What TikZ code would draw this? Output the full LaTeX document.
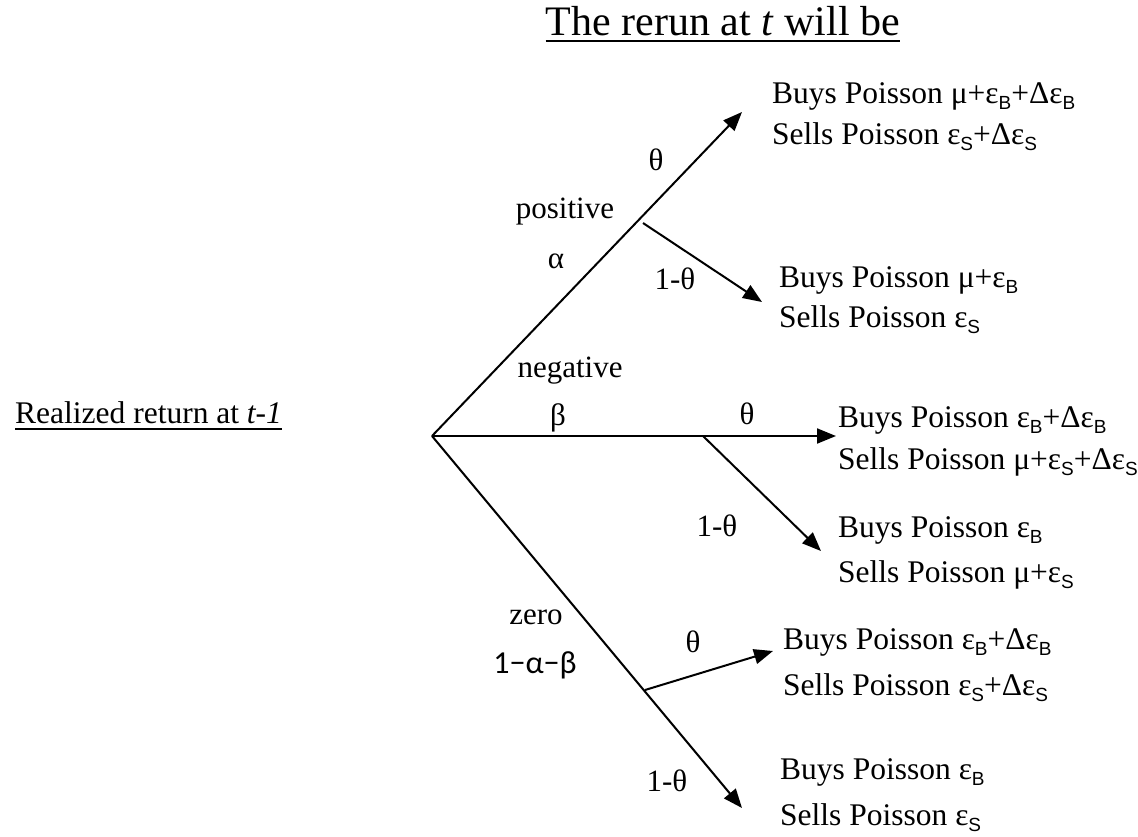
\documentclass[tikz,border=0pt]{standalone}
\usepackage{fontspec}
\setmainfont{Liberation Serif}
\newfontfamily\subfont{Liberation Sans}
\newfontfamily\carl{Carlito}
\usepackage{tikz}
\usetikzlibrary{arrows.meta}

% subscripts B and S are set in a sans font
\newcommand{\lo}[1]{\raisebox{-6pt}{\subfont\fontsize{19}{19}\selectfont #1}}

\begin{document}
\begin{tikzpicture}[x=1pt, y=-1pt,
    lbl/.style={inner sep=0pt, anchor=base, font=\fontsize{31}{36}\selectfont},
    outc/.style={inner sep=0pt, anchor=base west, font=\fontsize{31.5}{36}\selectfont},
    arr/.style={-{Triangle[length=19pt, width=15pt]}, line width=2pt},
    uline/.style={line width=2pt},
]
\useasboundingbox (0,0) rectangle (1138,836);

% Headings
\node[lbl, font=\fontsize{42}{48}\selectfont] (title) at (723,35) {The rerun at \textit{t} will be};
\draw[uline] ([yshift=-6pt]title.base west) -- ([yshift=-6pt]title.base east);
\node[outc] (prev) at (15,423) {Realized return at \textit{t-1}};
\draw[uline] ([yshift=-6pt]prev.base west) -- ([yshift=-6pt]prev.base east);

% Tree points
\coordinate (root) at (432,436);
\coordinate (posEnd) at (742,112);
\coordinate (negEnd) at (836,436);
\coordinate (zeroEnd) at (742,808);
\coordinate (posFork) at (643,223);
\coordinate (negFork) at (703,436);
\coordinate (zeroFork) at (645,690);
\coordinate (posLow) at (762,302);
\coordinate (negLow) at (821,551);
\coordinate (zeroUp) at (773,651);

% First level
\draw[arr] (root) -- (posEnd);
\draw[arr] (root) -- (negEnd);
\draw[arr] (root) -- (zeroEnd);

% Second level
\draw[arr] (posFork) -- (posLow);
\draw[arr] (negFork) -- (negLow);
\draw[arr] (zeroFork) -- (zeroUp);

% Branch labels
\node[lbl] (posName) at (565,218) {positive};
\node[lbl] (posProb) at (556,268) {α};
\node[lbl] (posTh) at (656,170) {θ};
\node[lbl] (posNth) at (675,289) {1-θ};
\node[lbl] (negName) at (570,377) {negative};
\node[lbl] (negProb) at (558,425) {β};
\node[lbl] (negTh) at (747,424) {θ};
\node[lbl] (negNth) at (717,536) {1-θ};
\node[lbl] (zeroName) at (536,624) {zero};
\node[lbl, font=\carl\fontsize{32}{36}\selectfont] (zeroProb) at (535,673) {1−α−β};
\node[lbl] (zeroTh) at (693,652) {θ};
\node[lbl] (zeroNth) at (667,791) {1-θ};

% Outcomes
\node[outc] (buysA) at (772,103) {Buys Poisson μ+ε\lo{B}+Δε\lo{B}};
\node[outc] (sellsA) at (772,144) {Sells Poisson ε\lo{S}+Δε\lo{S}};
\node[outc] (buysB) at (779,287) {Buys Poisson μ+ε\lo{B}};
\node[outc] (sellsB) at (779,327) {Sells Poisson ε\lo{S}};
\node[outc] (buysC) at (838,427) {Buys Poisson ε\lo{B}+Δε\lo{B}};
\node[outc] (sellsC) at (838,469) {Sells Poisson μ+ε\lo{S}+Δε\lo{S}};
\node[outc] (buysD) at (838,537) {Buys Poisson ε\lo{B}};
\node[outc] (sellsD) at (838,582) {Sells Poisson μ+ε\lo{S}};
\node[outc] (buysE) at (783,649) {Buys Poisson ε\lo{B}+Δε\lo{B}};
\node[outc] (sellsE) at (783,695) {Sells Poisson ε\lo{S}+Δε\lo{S}};
\node[outc] (buysF) at (780,779) {Buys Poisson ε\lo{B}};
\node[outc] (sellsF) at (780,825) {Sells Poisson ε\lo{S}};
\end{tikzpicture}
\end{document}
